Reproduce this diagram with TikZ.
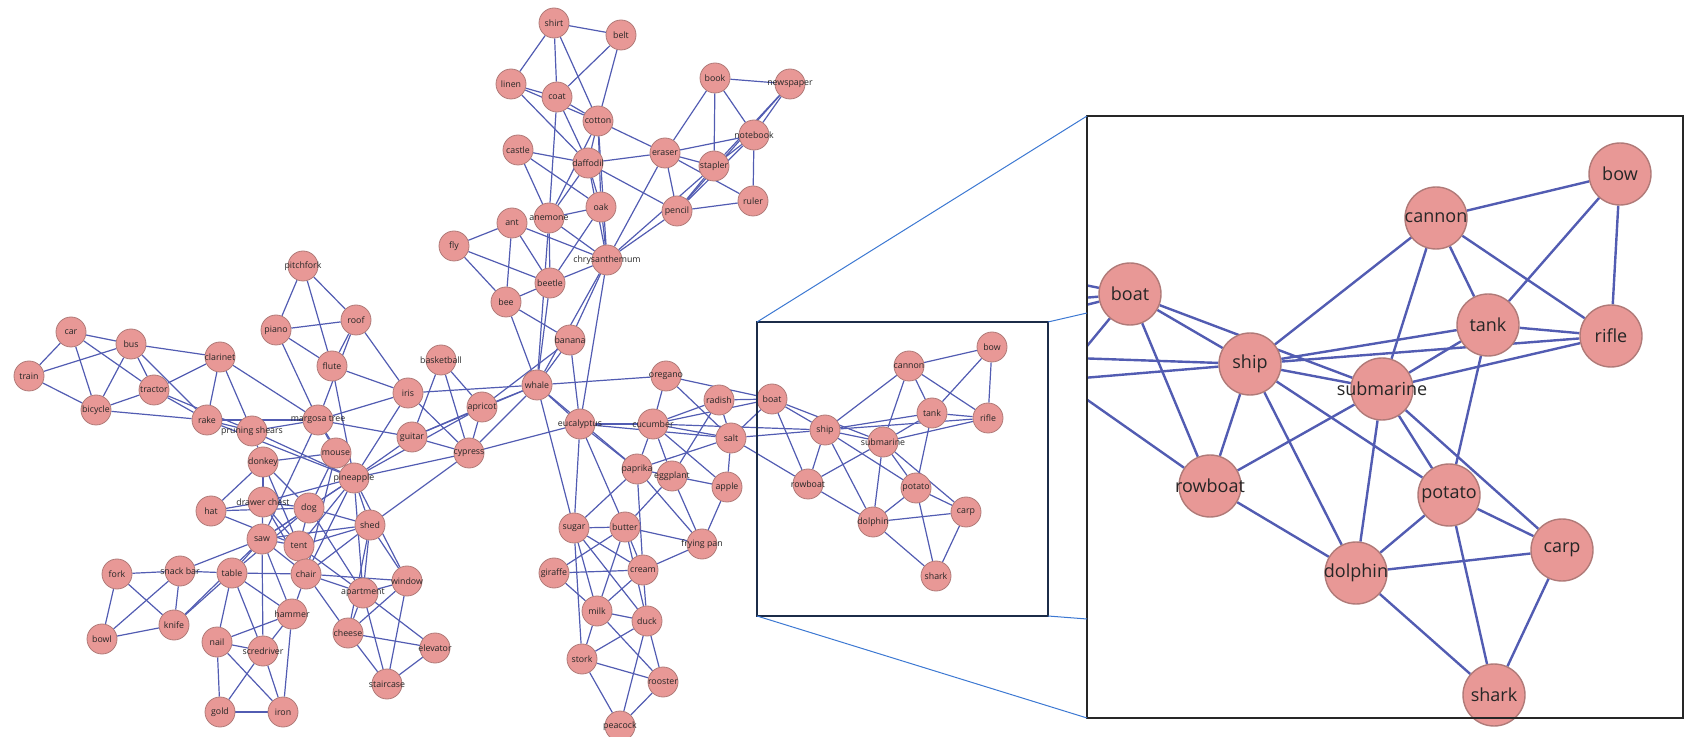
\documentclass[tikz,border=0pt]{standalone}
\usepackage{fontspec}
\setmainfont{Open Sans}
\usetikzlibrary{backgrounds}

\definecolor{nodepink}{RGB}{232,152,150}
\definecolor{nodeedge}{RGB}{176,122,120}
\definecolor{linkblue}{RGB}{82,92,178}
\definecolor{zoomblue}{RGB}{60,120,210}
\definecolor{navy}{RGB}{28,44,72}

\tikzset{
  word/.style={circle,fill=nodepink,draw=nodeedge,line width=0.4pt,minimum size=15pt,inner sep=0pt},
  wordtext/.style={inner sep=0pt,font=\fontsize{4.4}{5}\selectfont,text=black!85},
  bigword/.style={word,minimum size=31pt,line width=0.7pt},
  bigtext/.style={inner sep=0pt,font=\fontsize{9}{10}\selectfont,text=black!85},
  link/.style={linkblue,line width=0.6pt},
  biglink/.style={linkblue,line width=1.2pt},
  zoomline/.style={zoomblue,line width=0.5pt}
}

\begin{document}
\begin{tikzpicture}[x=0.5pt,y=-0.5pt]
\useasboundingbox (0,0) rectangle (1698,737);

% main network
\foreach \n/\x/\y/\t in {
  pitchfork/303/266/pitchfork, roof/356/320/roof, piano/276/330/piano, car/71/332/car,
  bus/131/344/bus, clarinet/220/357/clarinet, flute/332/366/flute, basketball/441/360/basketball,
  train/29/376/train, tractor/154/390/tractor, iris/408/393/iris, apricot/482/407/apricot,
  bicycle/96/410/bicycle, rake/207/420/rake, margosa/318/420/margosa tree,
  pruning/252/431/pruning shears, guitar/412/437/guitar, mouse/336/453/mouse,
  cypress/469/453/cypress, donkey/263/462/donkey, pineapple/354/478/pineapple,
  hat/211/511/hat, drawer/263/502/drawer chest, dog/309/508/dog, shed/370/525/shed,
  saw/262/539/saw, tent/299/546/tent, fork/117/574/fork, snack/180/571/snack bar,
  table/232/573/table, chair/306/574/chair, window/407/581/window,
  apartment/363/593/apartment, hammer/292/614/hammer, knife/174/625/knife,
  cheese/348/633/cheese, bowl/102/639/bowl, nail/217/642/nail,
  screwdriver/263/651/scredriver, elevator/435/648/elevator, staircase/387/684/staircase,
  gold/220/712/gold, iron/283/712/iron,
  shirt/554/23/shirt, belt/621/35/belt, book/715/78/book, newspaper/790/84/newspaper,
  linen/511/84/linen, coat/557/97/coat, cotton/598/121/cotton, notebook/754/135/notebook,
  castle/518/150/castle, eraser/665/153/eraser, daffodil/588/163/daffodil,
  stapler/714/166/stapler, ruler/753/201/ruler, oak/601/207/oak, pencil/677/211/pencil,
  anemone/549/218/anemone, ant/512/223/ant, fly/454/246/fly,
  chrys/607/260/chrysanthemum, beetle/550/283/beetle, bee/506/302/bee,
  banana/570/340/banana, whale/537/385/whale, oregano/666/376/oregano,
  radish/719/400/radish, eucalyptus/580/424/eucalyptus, cucumber/653/424/cucumber,
  salt/731/438/salt, paprika/637/469/paprika, eggplant/672/476/eggplant,
  apple/727/487/apple, sugar/574/528/sugar, butter/625/527/butter,
  frying/702/544/frying pan, giraffe/554/573/giraffe, cream/643/570/cream,
  milk/597/611/milk, duck/647/621/duck, stork/582/659/stork,
  rooster/663/682/rooster, peacock/620/726/peacock,
  boat/772/399/boat, bow/992/347/bow, cannon/909/366/cannon, tank/932/413/tank,
  rifle/988/418/rifle, ship/825/430/ship, submarine/883/442/submarine,
  rowboat/808/484/rowboat, potato/916/488/potato, carp/966/512/carp,
  dolphin/873/522/dolphin, shark/936/576/shark}
  \node[word,label={[wordtext]center:\t}] (\n) at (\x,\y) {};

% enlarged part
\foreach \n/\x/\y in {boat/1130/294, bow/1620/174, cannon/1436/218, tank/1488/325,
  rifle/1611/336, ship/1250/364, submarine/1382/389, rowboat/1210/486,
  potato/1449/495, carp/1562/550, dolphin/1356/573, shark/1494/695}
  \node[bigword,label={[bigtext]center:\n}] (z\n) at (\x,\y) {};
\foreach \n/\x/\y in {oregano/924/253, radish/1035/302, salt/1059/380, cucumber/897/352}
  \coordinate (z\n) at (\x,\y);

\begin{scope}[on background layer]
\foreach \a/\b in {
  car/train, car/bus, car/bicycle, car/tractor, train/bus, train/bicycle, bus/bicycle,
  bus/tractor, bus/rake, bus/clarinet, tractor/bicycle, tractor/clarinet, tractor/rake,
  tractor/pruning, bicycle/rake, clarinet/rake, clarinet/pruning, clarinet/margosa,
  rake/margosa, rake/pruning, rake/pineapple, pruning/margosa, pruning/pineapple,
  pruning/donkey, pitchfork/piano, pitchfork/roof, pitchfork/flute, piano/roof,
  piano/flute, piano/margosa, roof/flute, roof/iris, roof/margosa, flute/iris,
  flute/pineapple, iris/margosa, iris/pineapple, iris/cypress, iris/whale,
  basketball/guitar, basketball/cypress, basketball/apricot, margosa/guitar,
  margosa/mouse, margosa/pineapple, margosa/saw, guitar/pineapple, guitar/cypress,
  guitar/apricot, guitar/whale, apricot/cypress, apricot/pineapple, apricot/whale,
  apricot/banana, cypress/pineapple, cypress/whale, cypress/eucalyptus, cypress/shed,
  mouse/donkey, mouse/pineapple, mouse/dog, mouse/chair, donkey/hat, donkey/drawer,
  donkey/tent, donkey/dog, pineapple/drawer, pineapple/dog, pineapple/shed,
  pineapple/chair, pineapple/tent, pineapple/window, pineapple/apartment, pineapple/saw,
  hat/drawer, hat/dog, hat/tent, drawer/dog, drawer/saw, drawer/tent, drawer/chair,
  dog/saw, dog/shed, dog/tent, dog/table, dog/apartment, shed/tent, shed/saw,
  shed/chair, shed/window, shed/apartment, shed/cheese, saw/tent, saw/table,
  saw/snack, saw/chair, saw/hammer, saw/screwdriver, saw/knife, tent/chair,
  tent/apartment, fork/snack, fork/bowl, fork/knife, snack/table, snack/knife,
  snack/bowl, table/knife, table/chair, table/hammer, table/nail, table/screwdriver,
  chair/window, chair/apartment, chair/hammer, chair/cheese, window/apartment,
  window/cheese, window/staircase, apartment/cheese, apartment/elevator,
  apartment/staircase, cheese/elevator, cheese/staircase, elevator/staircase,
  hammer/nail, hammer/screwdriver, hammer/iron, nail/screwdriver, nail/gold, nail/iron,
  screwdriver/gold, screwdriver/iron, gold/iron, knife/bowl,
  shirt/belt, shirt/linen, shirt/coat, shirt/cotton, belt/coat, belt/cotton,
  linen/coat, linen/cotton, linen/daffodil, coat/cotton, coat/daffodil, coat/anemone,
  cotton/daffodil, cotton/oak, cotton/chrys, cotton/eraser, cotton/anemone,
  castle/daffodil, castle/anemone, castle/oak, daffodil/eraser, daffodil/oak,
  daffodil/anemone, daffodil/chrys, daffodil/pencil, book/newspaper, book/eraser,
  book/stapler, book/notebook, newspaper/notebook, newspaper/pencil, newspaper/stapler,
  eraser/notebook, eraser/stapler, eraser/pencil, eraser/ruler, eraser/chrys,
  notebook/stapler, notebook/ruler, notebook/pencil, stapler/pencil, stapler/chrys,
  pencil/ruler, pencil/chrys, oak/anemone, oak/chrys, oak/beetle, anemone/chrys,
  anemone/beetle, anemone/whale, ant/fly, ant/bee, ant/beetle, ant/chrys, fly/beetle,
  fly/bee, chrys/beetle, chrys/banana, chrys/eucalyptus, chrys/whale, beetle/bee,
  beetle/whale, bee/banana, bee/whale, banana/whale, banana/eucalyptus,
  whale/oregano, whale/eucalyptus, whale/sugar, whale/paprika,
  eucalyptus/cucumber, eucalyptus/paprika, eucalyptus/sugar, eucalyptus/butter,
  eucalyptus/salt, oregano/cucumber, oregano/salt, oregano/boat, radish/cucumber,
  radish/salt, radish/boat, radish/eggplant, cucumber/salt, cucumber/paprika,
  cucumber/eggplant, cucumber/apple, cucumber/ship, cucumber/boat, salt/apple,
  salt/paprika, salt/boat, salt/ship, salt/rowboat, paprika/eggplant, paprika/sugar,
  paprika/cream, paprika/frying, eggplant/apple, eggplant/butter, eggplant/frying,
  apple/frying, sugar/butter, giraffe/butter, sugar/cream, sugar/milk, sugar/stork,
  sugar/duck, butter/cream, butter/frying, butter/milk, butter/duck, giraffe/cream,
  giraffe/milk, cream/frying, cream/milk, cream/duck, milk/duck, milk/stork,
  milk/rooster, duck/stork, duck/peacock, duck/rooster, stork/rooster, stork/peacock,
  rooster/peacock}
  \draw[link] (\a) -- (\b);

\foreach \a/\b in {boat/ship, boat/submarine, boat/rowboat, ship/rowboat, ship/dolphin,
  ship/potato, ship/submarine, ship/tank, ship/cannon, ship/rifle, cannon/bow,
  cannon/tank, cannon/rifle, cannon/submarine, bow/tank, bow/rifle, tank/rifle,
  tank/submarine, tank/potato, rifle/submarine, submarine/rowboat, submarine/potato,
  submarine/dolphin, submarine/carp, rowboat/dolphin, potato/dolphin, potato/carp,
  potato/shark, dolphin/carp, dolphin/shark, carp/shark}
{
  \draw[link] (\a) -- (\b);
  \draw[biglink] (z\a) -- (z\b);
}

% edges leaving the enlarged part
\begin{scope}
  \clip (1087,116) rectangle (1683,718);
  \foreach \a/\b in {oregano/boat, radish/boat, salt/boat, cucumber/ship, salt/ship,
    salt/rowboat, cucumber/boat}
    \draw[biglink] (z\a) -- (z\b);
\end{scope}
\end{scope}

% frames
\draw[navy,line width=1.1pt] (757,322) coordinate (s1) rectangle (1048,616) coordinate (s3);
\draw[black!85,line width=0.8pt] (1087,116) coordinate (b1) rectangle (1683,718) coordinate (b3);
\draw[zoomline] (s1) -- (b1);
\draw[zoomline] (1048,322) -- (1087,313);
\draw[zoomline] (757,616) -- (1087,718);
\draw[zoomline] (s3) -- (1087,619);
\end{tikzpicture}
\end{document}
